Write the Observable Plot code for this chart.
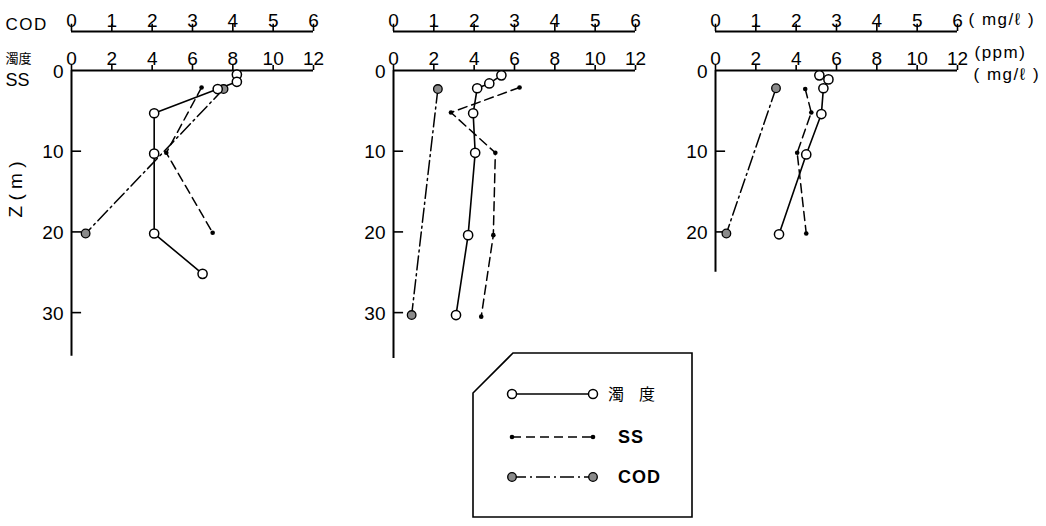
<!DOCTYPE html>
<html>
<head>
<meta charset="utf-8">
<script src="https://cdn.jsdelivr.net/npm/d3@7"></script>
<script src="https://cdn.jsdelivr.net/npm/@observablehq/plot@0.6"></script>
<style>
  html, body { margin: 0; padding: 0; background: #fff; }
  #wrap { position: relative; width: 1046px; height: 526px; }
  #legend { position: absolute; left: 0; top: 0; pointer-events: none; }
</style>
</head>
<body>
<div id="wrap"></div>
<script>
// ---------- data ----------
const panels = ["A", "B", "C"];

// turbidity (濁度, ppm) per panel: depth (m) and value
const turbDepthA = [0.5, 1.4, 2.3, 5.3, 10.3, 20.2, 25.2];
const turbA      = [8.2, 8.2, 7.25, 4.1, 4.1, 4.1, 6.5];
const turbDepthB = [0.6, 1.6, 2.2, 5.3, 10.2, 20.4, 30.3];
const turbB      = [5.35, 4.75, 4.15, 3.95, 4.05, 3.7, 3.1];
const turbDepthC = [0.6, 1.1, 2.2, 5.4, 10.4, 20.3];
const turbC      = [5.15, 5.6, 5.35, 5.25, 4.5, 3.15];

// SS (mg/l)
const ssDepthA = [2.1, 10.2, 20.1];
const ssA      = [6.45, 4.7, 7.0];
const ssDepthB = [2.1, 5.2, 10.2, 20.4, 30.5];
const ssB      = [6.25, 2.85, 5.05, 4.95, 4.35];
const ssDepthC = [2.3, 5.2, 10.2, 20.2];
const ssC      = [4.45, 4.75, 4.05, 4.5];

// COD (mg/l)
const codDepthA = [2.3, 20.2];
const codA      = [3.77, 0.35];
const codDepthB = [2.3, 30.3];
const codB      = [1.1, 0.45];
const codDepthC = [2.2, 20.2];
const codC      = [1.5, 0.27];

// axes
const mainTicks = [0, 2, 4, 6, 8, 10, 12];     // 濁度 / SS scale
const codTicks  = [0, 1, 2, 3, 4, 5, 6];       // COD scale
const depthTicksA = [0, 10, 20, 30];
const depthTicksB = [0, 10, 20, 30];
const depthTicksC = [0, 10, 20];
const depthAxisEnd = [35.4, 35.7, 25];         // length of each depth axis (m)

// ---------- build tables ----------
const rows = [];
function add(panel, series, depths, values) {
  depths.forEach((d, i) => rows.push({panel, series, depth: d, value: values[i]}));
}
add("A", "turb", turbDepthA, turbA); add("B", "turb", turbDepthB, turbB); add("C", "turb", turbDepthC, turbC);
add("A", "ss", ssDepthA, ssA);       add("B", "ss", ssDepthB, ssB);       add("C", "ss", ssDepthC, ssC);
add("A", "cod", codDepthA, codA);    add("B", "cod", codDepthB, codB);    add("C", "cod", codDepthC, codC);

const xPos = d => d.series === "cod" ? d.value * 2 : d.value;   // COD 0–6 shares the 0–12 span

const depthTickRows = [];
[["A", depthTicksA], ["B", depthTicksB], ["C", depthTicksC]].forEach(([p, t]) =>
  t.forEach(v => depthTickRows.push({panel: p, depth: v})));
const axisRows = panels.map((p, i) => ({panel: p, end: depthAxisEnd[i]}));

const turbRows = rows.filter(d => d.series === "turb");
const ssRows = rows.filter(d => d.series === "ss");
const codRows = rows.filter(d => d.series === "cod");

const font = "'Liberation Sans', Arial, sans-serif";
const cjk = "'Noto Sans CJK JP', 'Noto Sans CJK SC', sans-serif";

const chart = Plot.plot({
  width: 1046,
  height: 526,
  marginLeft: 70,
  marginRight: 89,
  marginTop: 70,
  marginBottom: 169.5,
  fx: {domain: panels, paddingInner: 0.25, paddingOuter: 0, axis: null},
  x: {domain: [0, 12], axis: null},
  y: {domain: [0, 35.5], reverse: true, axis: null},
  style: {fontFamily: font, background: "white", color: "black", overflow: "visible"},
  marks: [
    // 濁度 / SS axis along depth 0
    Plot.ruleY([0], {x1: 0, x2: 12, stroke: "black", strokeWidth: 2}),
    Plot.ruleX(mainTicks, {x: d => d, y1: 0, y2: -0.62, stroke: "black", strokeWidth: 1.6}),
    Plot.text(mainTicks, {x: d => d, frameAnchor: "top", dy: -19, text: d => String(d), fontSize: 19, fill: "black"}),
    // COD axis above it
    Plot.ruleY([0], {x1: 0, x2: 12, dy: -39, stroke: "black", strokeWidth: 2}),
    Plot.ruleX(codTicks, {x: d => 2 * d, y1: 0, y2: -0.9, dy: -39, stroke: "black", strokeWidth: 1.6}),
    Plot.text(codTicks, {x: d => 2 * d, frameAnchor: "top", dy: -57, text: d => String(d), fontSize: 19, fill: "black"}),
    // depth axes
    Plot.ruleX(axisRows, {fx: "panel", x: 0, y1: 0, y2: "end", stroke: "black", strokeWidth: 2}),
    Plot.ruleY(depthTickRows.filter(d => d.depth > 0), {fx: "panel", y: "depth", x1: 0, x2: 0.5, stroke: "black", strokeWidth: 1.6}),
    Plot.text(depthTickRows, {fx: "panel", y: "depth", x: 0, dx: -8, dy: 1, textAnchor: "end", text: d => String(d.depth), fontSize: 19, fill: "black"}),
    // left labels
    Plot.text(["COD"], {fx: () => "A", x: 0, y: 0, dx: -66, dy: -46, textAnchor: "start", fontSize: 17, fill: "black"}),
    Plot.text(["濁度"], {fx: () => "A", x: 0, y: 0, dx: -66, dy: -12, textAnchor: "start", fontSize: 13, fontFamily: cjk, fill: "black"}),
    Plot.text(["SS"], {fx: () => "A", x: 0, y: 0, dx: -66, dy: 10, textAnchor: "start", fontSize: 18, fill: "black"}),
    Plot.text(["Z ( m )"], {fx: () => "A", x: 0, y: 0, dx: -56, dy: 119, rotate: -90, fontSize: 19, fill: "black"}),
    // unit labels on the right panel
    Plot.text(["( mg/ℓ )"], {fx: () => "C", x: 12, y: 0, dx: 11, dy: -51, textAnchor: "start", fontSize: 17, fill: "black"}),
    Plot.text(["(ppm)"], {fx: () => "C", x: 12, y: 0, dx: 17, dy: -18, textAnchor: "start", fontSize: 17, fill: "black"}),
    Plot.text(["( mg/ℓ )"], {fx: () => "C", x: 12, y: 0, dx: 16, dy: 4, textAnchor: "start", fontSize: 17, fill: "black"}),
    // series
    Plot.line(codRows, {fx: "panel", x: xPos, y: "depth", stroke: "black", strokeWidth: 1.5, strokeDasharray: "14,4,2,4"}),
    Plot.line(ssRows, {fx: "panel", x: xPos, y: "depth", stroke: "black", strokeWidth: 1.5, strokeDasharray: "9,5"}),
    Plot.line(turbRows, {fx: "panel", x: xPos, y: "depth", stroke: "black", strokeWidth: 1.6}),
    Plot.dot(codRows, {fx: "panel", x: xPos, y: "depth", r: 4.3, fill: "#8a8a8a", stroke: "black", strokeWidth: 1.3}),
    Plot.dot(ssRows, {fx: "panel", x: xPos, y: "depth", r: 2.3, fill: "black", stroke: "none"}),
    Plot.dot(turbRows, {fx: "panel", x: xPos, y: "depth", r: 4.6, fill: "white", stroke: "black", strokeWidth: 1.5})
  ]
});
document.getElementById("wrap").appendChild(chart);

// widen the spacing of a few labels, as in the original lettering
d3.select(chart).selectAll("text")
  .filter(function () { return /mg|ppm|COD/.test(this.textContent); })
  .attr("letter-spacing", "1.5px");

// ---------- legend (box with cut corner) ----------
const legendItems = [
  {label: "濁度", type: "turb"},
  {label: "SS", type: "ss"},
  {label: "COD", type: "cod"}
];
const lg = d3.select("#wrap").append("svg")
  .attr("id", "legend").attr("width", 1046).attr("height", 526);
lg.append("path")
  .attr("d", "M473,393 L513,353 L692,353 L692,517 L473,517 Z")
  .attr("fill", "none").attr("stroke", "black").attr("stroke-width", 1.6);
const rowY = [394, 437, 477];
legendItems.forEach((it, i) => {
  const y = rowY[i];
  const g = lg.append("g");
  const dash = it.type === "ss" ? "9,5" : it.type === "cod" ? "14,4,2,4" : null;
  g.append("line").attr("x1", 512).attr("x2", 593).attr("y1", y).attr("y2", y)
    .attr("stroke", "black").attr("stroke-width", 1.5).attr("stroke-dasharray", dash);
  [512, 593].forEach(cx => {
    if (it.type === "turb") g.append("circle").attr("cx", cx).attr("cy", y).attr("r", 4.5).attr("fill", "white").attr("stroke", "black").attr("stroke-width", 1.5);
    else if (it.type === "ss") g.append("circle").attr("cx", cx).attr("cy", y).attr("r", 2.3).attr("fill", "black");
    else g.append("circle").attr("cx", cx).attr("cy", y).attr("r", 4.3).attr("fill", "#8a8a8a").attr("stroke", "black").attr("stroke-width", 1.3);
  });
  g.append("text").attr("x", it.type === "turb" ? 608 : 618).attr("y", y).attr("dy", "0.35em")
    .attr("font-family", it.type === "turb" ? cjk : font)
    .attr("font-size", it.type === "turb" ? 16 : 18)
    .attr("font-weight", it.type === "turb" ? "normal" : "bold")
    .attr("letter-spacing", it.type === "turb" ? "15px" : "1px")
    .text(it.label);
});
</script>
</body>
</html>
